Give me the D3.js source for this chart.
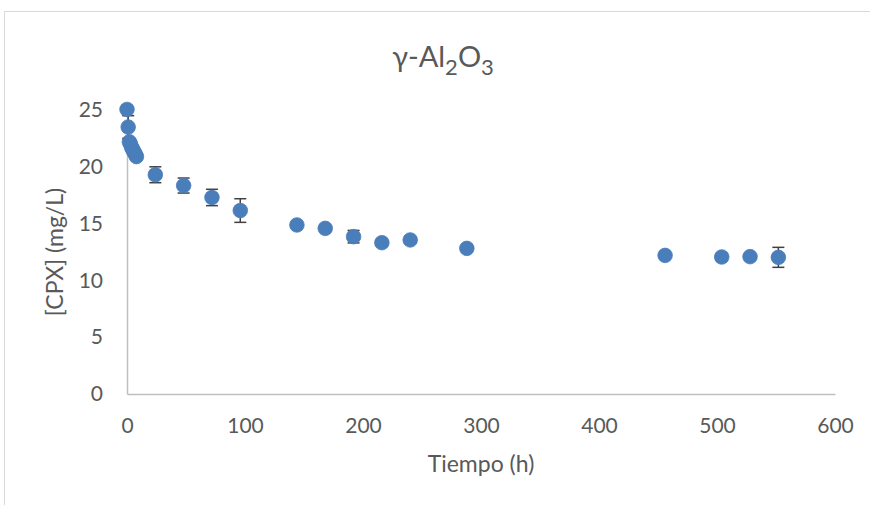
<!DOCTYPE html>
<html><head><meta charset="utf-8">
<script src="https://cdn.jsdelivr.net/npm/d3@7"></script>
<style>body{margin:0;background:#fff}svg{display:block}text{font-family:Lato,"Open Sans",sans-serif}</style>
</head><body><svg id="c" width="870" height="505"></svg>
<script>
const times = [0, 1, 2, 3, 4, 5, 6, 7, 8, 24, 48, 72, 96, 144, 168, 192, 216, 240, 288, 456, 504, 528, 552];
const conc  = [25.05, 23.5, 22.2, 22.0, 21.7, 21.5, 21.3, 21.1, 20.9, 19.3, 18.35, 17.3, 16.15, 14.88, 14.58, 13.85, 13.32, 13.56, 12.82, 12.2, 12.06, 12.09, 12.03];
const errs  = [0.3, 1.0, 0.3, 0.3, 0.3, 0.3, 0.3, 0.3, 0.3, 0.7, 0.66, 0.72, 1.04, 0.3, 0.3, 0.55, 0.3, 0.3, 0.3, 0.3, 0.3, 0.3, 0.88];
const xTicks = [0, 100, 200, 300, 400, 500, 600];
const yTicks = [0, 5, 10, 15, 20, 25];

const svg = d3.select("#c");
const x = d3.scaleLinear().domain([0, 600]).range([127, 835]);
const y = d3.scaleLinear().domain([0, 25]).range([394, 110]);
const data = times.map((t, i) => ({t, v: conc[i], e: errs[i]}));

svg.append("rect").attr("x", 4.5).attr("y", 11.5).attr("width", 900).attr("height", 600)
  .attr("fill", "none").attr("stroke", "#d9d9d9").attr("stroke-width", 1);

// axes
const xa = svg.append("g").attr("transform", "translate(0,394)")
  .call(d3.axisBottom(x).tickValues(xTicks).tickSize(0).tickPadding(24));
const ya = svg.append("g").attr("transform", "translate(127,0)")
  .call(d3.axisLeft(y).tickValues(yTicks).tickSize(0).tickPadding(24));
[xa, ya].forEach(a => {
  a.select(".domain").attr("stroke", "#bfbfbf").attr("stroke-width", 1.5);
  a.selectAll("text").attr("fill", "#595959").style("font-size", "21px").style("font-family", "Lato, sans-serif");
});

// error bars
const eb = svg.append("g").attr("stroke", "#404040").attr("stroke-width", 1.5);
data.forEach(d => {
  const y1 = y(d.v + d.e), y2 = y(d.v - d.e), cx = x(d.t);
  eb.append("line").attr("x1", cx).attr("x2", cx).attr("y1", y1).attr("y2", y2);
  eb.append("line").attr("x1", cx - 6).attr("x2", cx + 6).attr("y1", y1).attr("y2", y1);
  eb.append("line").attr("x1", cx - 6).attr("x2", cx + 6).attr("y1", y2).attr("y2", y2);
});

svg.append("g").selectAll("circle").data(data).join("circle")
  .attr("cx", d => x(d.t)).attr("cy", d => y(d.v)).attr("r", 7.3)
  .attr("fill", "#4a7ebb").attr("stroke", "#4a7ebb").attr("stroke-width", 0.8);

// title
const title = svg.append("text").attr("x", 443).attr("y", 67).attr("text-anchor", "middle")
  .attr("fill", "#595959").style("font-size", "29px");
title.append("tspan").text("γ-Al");
title.append("tspan").text("2").style("font-size", "22px").attr("dy", 8);
title.append("tspan").text("O").attr("dy", -8);
title.append("tspan").text("3").style("font-size", "22px").attr("dy", 8);

svg.append("text").attr("x", 481).attr("y", 472).attr("text-anchor", "middle")
  .attr("fill", "#595959").style("font-size", "23px").text("Tiempo (h)");
svg.append("text").attr("transform", "translate(63,252) rotate(-90)").attr("text-anchor", "middle")
  .attr("fill", "#595959").style("font-size", "23px").text("[CPX] (mg/L)");
</script></body></html>
